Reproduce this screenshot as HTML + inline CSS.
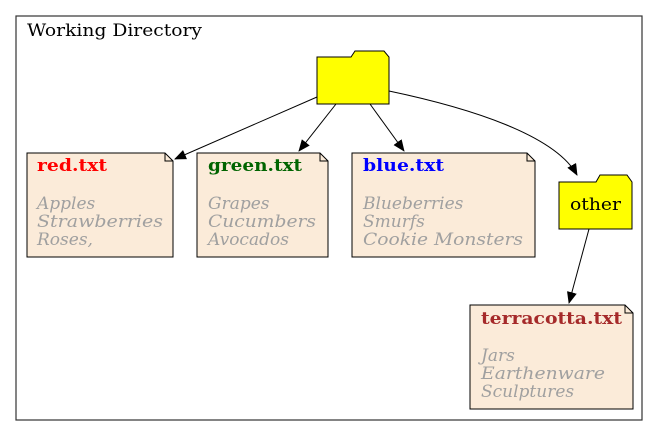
<!DOCTYPE html>
<html><head><style>body{margin:0;background:#fff}svg{display:block}text{font-family:"DejaVu Serif","Liberation Serif",serif;font-size:17px}.b{font-weight:bold}.g{fill:#a0a0a0;font-style:italic}</style></head><body>
<svg width="660" height="436" viewBox="0 0 660 436">
<defs><marker id="a" markerWidth="12" markerHeight="10" refX="11" refY="5" orient="auto" markerUnits="userSpaceOnUse"><path d="M0,0L12,5L0,10z" fill="#000"/></marker></defs>
<rect x="16" y="16" width="626" height="404" fill="none" stroke="#333" stroke-width="1.2"/>
<text x="27" y="36" textLength="175" lengthAdjust="spacingAndGlyphs">Working Directory</text>
<polygon points="317,104 317,57 351,57 355,51 384,51 389,57 389,104" fill="#ff0" stroke="#000"/>
<g fill="#fbebd9" stroke="#000">
<path d="M27,153H165L173,161V257H27Z"/><path d="M165,153V161H173" fill="none"/>
<path d="M197,153H320L328,161V257H197Z"/><path d="M320,153V161H328" fill="none"/>
<path d="M352,153H527L535,161V257H352Z"/><path d="M527,153V161H535" fill="none"/>
<path d="M470,305H625L633,313V409H470Z"/><path d="M625,305V313H633" fill="none"/>
</g>
<polygon points="559,229 559,182 596,182 600,175 627,175 632,182 632,229" fill="#ff0" stroke="#000"/>
<text x="570" y="210" textLength="51" lengthAdjust="spacingAndGlyphs">other</text>
<g stroke="#000" fill="none">
<path d="M317,97L175,159" marker-end="url(#a)"/>
<path d="M336,104L299,151" marker-end="url(#a)"/>
<path d="M370,104L404,151" marker-end="url(#a)"/>
<path d="M389,91C470,108 555,135 577,175" marker-end="url(#a)"/>
<path d="M589,229L569,303" marker-end="url(#a)"/>
</g>
<text x="37" y="171" class="b" fill="#f00" textLength="70" lengthAdjust="spacingAndGlyphs">red.txt</text>
<text x="37" y="209" class="g">Apples</text><text x="37" y="227" class="g" textLength="126" lengthAdjust="spacingAndGlyphs">Strawberries</text><text x="37" y="245" class="g">Roses,</text>
<text x="208" y="171" class="b" fill="#006400" textLength="94" lengthAdjust="spacingAndGlyphs">green.txt</text>
<text x="208" y="209" class="g">Grapes</text><text x="208" y="227" class="g" textLength="108" lengthAdjust="spacingAndGlyphs">Cucumbers</text><text x="208" y="245" class="g">Avocados</text>
<text x="363" y="171" class="b" fill="#00f" textLength="81" lengthAdjust="spacingAndGlyphs">blue.txt</text>
<text x="363" y="209" class="g">Blueberries</text><text x="363" y="227" class="g">Smurfs</text><text x="363" y="245" class="g" textLength="160" lengthAdjust="spacingAndGlyphs">Cookie Monsters</text>
<text x="481" y="324" class="b" fill="#a52a2a" textLength="141" lengthAdjust="spacingAndGlyphs">terracotta.txt</text>
<text x="481" y="361" class="g">Jars</text><text x="481" y="379" class="g" textLength="124" lengthAdjust="spacingAndGlyphs">Earthenware</text><text x="481" y="397" class="g">Sculptures</text>
</svg></body></html>
